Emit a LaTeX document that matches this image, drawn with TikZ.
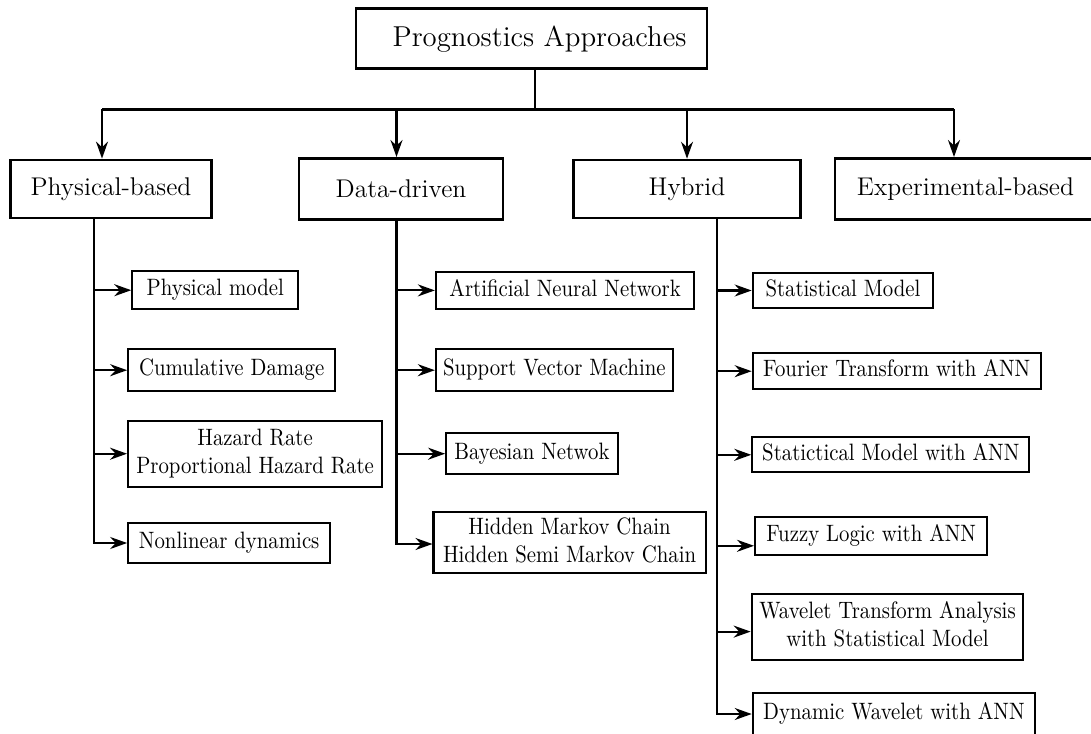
\documentclass[tikz,border=0pt]{standalone}
\usetikzlibrary{arrows.meta}

% method labels are set a little taller than wide
\newcommand{\tallstack}[1]{\scalebox{1}[1.14]{\begin{tabular}{@{}c@{}}#1\end{tabular}}}

\tikzset{
  % sizes are given in the picture's own units (1 unit = 0.5pt)
  sz/.style 2 args={minimum width=#1*0.5pt, minimum height=#2*0.5pt},
  topbox/.style={draw, line width=1.35pt, inner sep=0pt, align=center,
    font=\fontsize{14.4}{17}\selectfont},
  catbox/.style={draw, line width=1.3pt, inner sep=0pt, align=center,
    font=\fontsize{12.8}{15}\selectfont},
  subbox/.style={draw, line width=1.05pt, inner sep=0pt, align=center,
    font=\fontsize{10.4}{12.3}\selectfont},
  conn/.style={line width=1.05pt},
  arr/.style={conn, -{Stealth[length=8.5pt, width=6pt, inset=2.8pt]}},
}

\begin{document}
\begin{tikzpicture}[x=0.5pt, y=-0.5pt]
\useasboundingbox (0,0) rectangle (1091,733);
\clip (0,0) rectangle (1091,733);

% root
\node[topbox, sz={351}{60}] (root) at (531.5,38.7) {\hspace*{8pt}Prognostics Approaches};

% main approaches
\node[catbox, sz={201}{58}] (phys) at (111,188.9) {Physical-based};
\node[catbox, sz={204}{61}] (data) at (401,188.8) {Data-driven};
\node[catbox, sz={227}{58}] (hyb)  at (687,189)   {Hybrid};
\node[catbox, sz={261}{61}] (expb) at (965.5,188.8) {Experimental-based};

% physical-based methods
\node[subbox, sz={166}{38.3}] (pm) at (215.3,290.2) {\tallstack{Physical model}};
\node[subbox, sz={207}{41.7}] (cd) at (231.7,370.2) {\tallstack{Cumulative Damage}};
\node[subbox, sz={254}{66}]   (hz) at (255.1,453.7) {\tallstack{Hazard Rate\\Proportional Hazard Rate}};
\node[subbox, sz={202}{39.4}] (nl) at (229.2,543)   {\tallstack{Nonlinear dynamics}};

% data-driven methods
\node[subbox, sz={258.4}{37.3}] (ann) at (565.1,290.4) {\tallstack{Artificial Neural Network}};
\node[subbox, sz={236.8}{41.7}] (svm) at (554.3,370.2) {\tallstack{Support Vector Machine}};
\node[subbox, sz={171.5}{40.7}] (bn)  at (531.9,453.7) {\tallstack{Bayesian Netwok}};
\node[subbox, sz={272.2}{61.6}] (hm)  at (569.6,542.5) {\tallstack{Hidden Markov Chain\\Hidden Semi Markov Chain}};

% hybrid methods
\node[subbox, sz={180.6}{35.6}] (sm)  at (843,290.5)   {\tallstack{Statistical Model}};
\node[subbox, sz={288}{35.7}]   (ft)  at (896.7,371.2) {\tallstack{Fourier Transform with ANN}};
\node[subbox, sz={277}{35}]     (sma) at (890.8,454.8) {\tallstack{Statictical Model with ANN}};
\node[subbox, sz={232.3}{38.3}] (fz)  at (871.2,535.8) {\tallstack{Fuzzy Logic with ANN}};
\node[subbox, sz={271.6}{66}]   (wt)  at (887.5,627)   {\tallstack{Wavelet Transform Analysis\\with Statistical Model}};
\node[subbox, sz={282.3}{41.4}] (dw)  at (893.9,714)   {\tallstack{Dynamic Wavelet with ANN}};

% bus from the root to the four approaches
\coordinate (j1) at (102,109.5);
\coordinate (j2) at (396.5,109.5);
\coordinate (j3) at (687,109.5);
\coordinate (j4) at (954,109.5);
\draw[conn] (root.south -| 535,0) -- (535,109.5);
\draw[conn] (j1) -- (j4);
\draw[arr] (j1) -- (phys.north -| j1);
\draw[arr] (j2) -- (data.north -| j2);
\draw[arr] (j3) -- (hyb.north -| j3);
\draw[arr] (j4) -- (expb.north -| j4);

% physical-based branch
\draw[arr] (phys.south -| 94,0) |- (nl.west);
\draw[arr] (pm.west -| 94,0) -- (pm.west);
\draw[arr] (cd.west -| 94,0) -- (cd.west);
\draw[arr] (hz.west -| 94,0) -- (hz.west);

% data-driven branch
\draw[arr] (data.south -| 396.5,0) |- ([yshift=-0.75pt]hm.west);
\draw[arr] (ann.west -| 396.5,0) -- (ann.west);
\draw[arr] (svm.west -| 396.5,0) -- (svm.west);
\draw[arr] (bn.west -| 396.5,0) -- (bn.west);

% hybrid branch
\draw[arr] (hyb.south -| 717,0) |- (dw.west);
\draw[arr] (sm.west -| 717,0) -- (sm.west);
\draw[arr] (ft.west -| 717,0) -- (ft.west);
\draw[arr] (sma.west -| 717,0) -- (sma.west);
\draw[arr] ([yshift=-5pt]fz.west -| 717,0) -- ([yshift=-5pt]fz.west);
\draw[arr] ([yshift=-2.3pt]wt.west -| 717,0) -- ([yshift=-2.3pt]wt.west);
\end{tikzpicture}
\end{document}
